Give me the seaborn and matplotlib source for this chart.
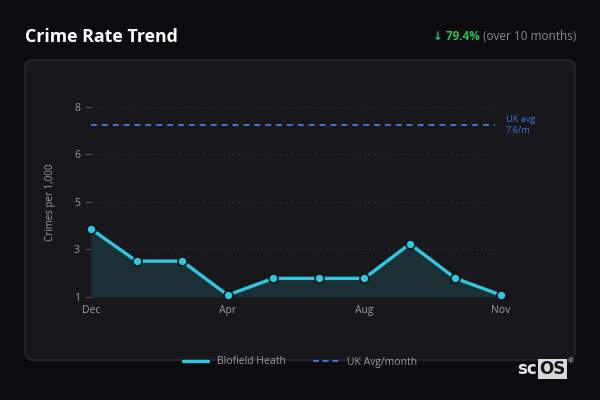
import matplotlib
matplotlib.use('Agg')
import matplotlib.pyplot as plt
import seaborn as sns
import numpy as np
import pandas as pd
from matplotlib.patches import FancyBboxPatch
from matplotlib.lines import Line2D

# data
months = ['Dec', 'Jan', 'Mar', 'Apr', 'May', 'Jul', 'Aug', 'Sep', 'Oct', 'Nov']
rate = [3.57, 2.32, 2.32, 1.00, 1.65, 1.65, 1.65, 2.99, 1.65, 1.00]
uk_avg = 7.6
shown_months = ['Dec', 'Apr', 'Aug', 'Nov']
change_txt = '79.4%'
period_txt = '(over 10 months)'

df = pd.DataFrame({'month': months, 'rate': rate})

sns.set_theme(style='dark')
plt.rcParams['font.family'] = ['Open Sans', 'DejaVu Sans']

bg = '#0c0b10'
card = '#18181c'
cyan = '#2ec8e0'
blue = '#3a78d8'
grey = '#9a9aa0'

fig = plt.figure(figsize=(6, 4), dpi=100)
fig.patch.set_facecolor(bg)

# card behind the chart (inches)
fig.patches.append(FancyBboxPatch((0.25, 0.40), 5.50, 3.00,
                                  boxstyle='round,pad=0,rounding_size=0.08',
                                  transform=fig.dpi_scale_trans,
                                  facecolor=card, edgecolor='#2c2c31', lw=1, zorder=-5))

ylo, yhi = 0.925, 8.325
ax = fig.add_axes([91 / 600, 1 - 297 / 400, 410 / 600, (297 - 106.7) / 400])
ax.set_facecolor('none')
ax.set_zorder(2)

ax.fill_between(range(len(rate)), rate, ylo, color='#1c3338', alpha=0.9, lw=0, zorder=1)
sns.lineplot(data=df, x='month', y='rate', ax=ax, color=cyan, lw=2.4, sort=False,
             marker='o', markersize=6.5, markerfacecolor=cyan, markeredgecolor='#101418',
             markeredgewidth=1.2, clip_on=False, zorder=3)
ax.axhline(uk_avg, xmin=0, xmax=0.985, color=blue, ls=(0, (3, 2.6)), lw=1.4, zorder=2)
ax.text(1.012, uk_avg, f'UK avg\n{uk_avg}/m', transform=ax.get_yaxis_transform(),
        color=blue, fontsize=6.6, va='center', ha='left', linespacing=1.25)

yt = np.linspace(ylo, yhi, 5)
ax.set_yticks(yt)
ax.set_yticklabels([str(int(np.floor(v + 0.5))) for v in yt])
for v in yt:
    ax.axhline(v, xmin=0, xmax=0.985, color='#34343a', ls=(0, (2, 3)), lw=0.7, zorder=0)
ax.set_ylim(ylo, yhi)
ax.set_xlim(0, len(months) - 1)
ax.set_xticks([months.index(m) for m in shown_months])
ax.set_xticklabels(shown_months)
ax.set_xlabel('')
ax.set_ylabel('')
ax.grid(False)
for s in ax.spines.values():
    s.set_visible(False)
ax.tick_params(axis='y', length=4, width=0.8, color='#55555b', labelsize=7.5, pad=4,
               left=True, labelcolor=grey)
ax.tick_params(axis='x', length=0, labelsize=7.5, labelcolor=grey, pad=6)

fig.text(50 / 600, 1 - 202 / 400, 'Crimes per 1,000', rotation=90, color=grey,
         fontsize=7, ha='center', va='center')

# header
fig.text(25 / 600, 1 - 37 / 400, 'Crime Rate Trend', color='white', fontsize=12.8,
         fontweight='bold', ha='left', va='center')
t1 = fig.text(576 / 600, 1 - 37 / 400, period_txt, color='#8a8a90', fontsize=8.5,
              ha='right', va='center')
fig.canvas.draw()
bb = t1.get_window_extent()
fig.text((bb.x0 - 3) / 600, 1 - 37 / 400, '\u2193 ' + change_txt, color='#2fbf5a',
         fontsize=8.5, fontweight='bold', ha='right', va='center',
         family=['Open Sans', 'DejaVu Sans'])

# legend
handles = [Line2D([], [], color=cyan, lw=2.4),
           Line2D([], [], color=blue, lw=1.4, ls=(0, (3, 2)))]
leg = fig.legend(handles, ['Blofield Heath', 'UK Avg/month'], loc='center',
                 bbox_to_anchor=(0.5, 1 - 362 / 400), ncol=2, frameon=False,
                 fontsize=7.5, handlelength=2.4, columnspacing=2.6, handletextpad=0.9)
for t in leg.get_texts():
    t.set_color(grey)

# logo
fig.text(537 / 600, 1 - 369 / 400, 'sc', color='#e6e6e6', fontsize=12, fontweight='bold',
         ha='right', va='center', family='DejaVu Sans')
fig.text(539 / 600, 1 - 369 / 400, 'OS', color='#111111', fontsize=12, fontweight='bold',
         ha='left', va='center', family='DejaVu Sans',
         bbox=dict(boxstyle='square,pad=0.08', facecolor='#d8d8d8', edgecolor='none'))
fig.text(571 / 600, 1 - 362 / 400, '\u00ae', color='#cccccc', fontsize=5, ha='center', va='center')

fig.savefig('out.png', dpi=100, facecolor=bg)
